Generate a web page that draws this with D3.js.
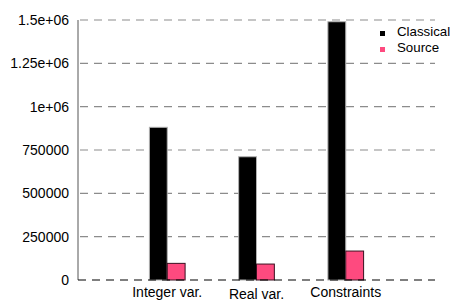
<!DOCTYPE html>
<html>
<head>
<meta charset="utf-8">
<script src="https://cdn.jsdelivr.net/npm/d3@7"></script>
<style>
  html, body { margin: 0; padding: 0; background: #fff; }
  svg text { font-family: "Liberation Sans", Arial, sans-serif; }
</style>
</head>
<body>
<div id="chart"></div>
<script>
// values
const categories = ['Integer var.', 'Real var.', 'Constraints'];
const seriesNames = ['Classical', 'Source'];
const classical = [881000, 711000, 1490000];
const source = [96000, 92000, 167000];
const yTicks = [0, 250000, 500000, 750000, 1000000, 1250000, 1500000];
const yTickLabels = ['0', '250000', '500000', '750000', '1e+06', '1.25e+06', '1.5e+06'];

(function(){
  const W = 452, H = 302;
  const colors = ['#000000', '#fe4a7f'];
  const strokes = ['#b0b0b0', '#3a1020'];

  const svg = d3.select('#chart').append('svg')
    .attr('width', W).attr('height', H);

  // slots 0..4, groups sit at 1,2,3 like a gnuplot histogram
  const x = d3.scaleLinear().domain([0, categories.length + 1]).range([78, 435]);
  const y = d3.scaleLinear().domain([0, 1500000]).range([280, 20]);
  const bw = 0.2; // bar width in slot units

  // grid
  svg.append('g').selectAll('line').data(yTicks.slice(1)).join('line')
    .attr('x1', x(0) + 2).attr('x2', x(4))
    .attr('y1', d => y(d)).attr('y2', d => y(d))
    .attr('stroke', '#8c8c8c').attr('stroke-width', 1.2)
    .attr('stroke-dasharray', '8,6');

  // tick labels
  svg.append('g').selectAll('text').data(yTicks).join('text')
    .attr('x', 69).attr('y', d => y(d)).attr('dy', '0.35em')
    .attr('text-anchor', 'end').attr('font-size', 14).attr('fill', '#000')
    .text((d, i) => yTickLabels[i]);

  // bars
  const series = [classical, source];
  series.forEach((vals, s) => {
    svg.append('g').selectAll('rect').data(vals).join('rect')
      .attr('x', (d, i) => x(i + 1 - bw + s * bw))
      .attr('width', x(bw) - x(0))
      .attr('y', d => y(d))
      .attr('height', d => y(0) - y(d))
      .attr('fill', colors[s])
      .attr('stroke', strokes[s]).attr('stroke-width', 1);
  });

  // axes
  svg.append('line')
    .attr('x1', x(0)).attr('x2', x(0)).attr('y1', y(1500000)).attr('y2', y(0))
    .attr('stroke', '#555').attr('stroke-width', 1);
  svg.append('line')
    .attr('x1', x(0)).attr('x2', x(4)).attr('y1', y(0)).attr('y2', y(0))
    .attr('stroke', '#000').attr('stroke-width', 1.2)
    .attr('stroke-dasharray', '8,6');

  // category labels (slightly staggered in the original)
  const labelY = [297, 299, 297];
  svg.append('g').selectAll('text').data(categories).join('text')
    .attr('x', (d, i) => x(i + 1))
    .attr('y', (d, i) => labelY[i])
    .attr('text-anchor', 'middle').attr('font-size', 14)
    .text(d => d);

  // legend
  const lg = svg.append('g').attr('transform', 'translate(380,31)');
  seriesNames.forEach((name, i) => {
    lg.append('rect').attr('x', 0).attr('y', i * 16).attr('width', 5).attr('height', 5)
      .attr('fill', colors[i]);
    lg.append('text').attr('x', 17).attr('y', i * 16 + 5)
      .attr('font-size', 13.3).text(name);
  });
})();
</script>
</body>
</html>
